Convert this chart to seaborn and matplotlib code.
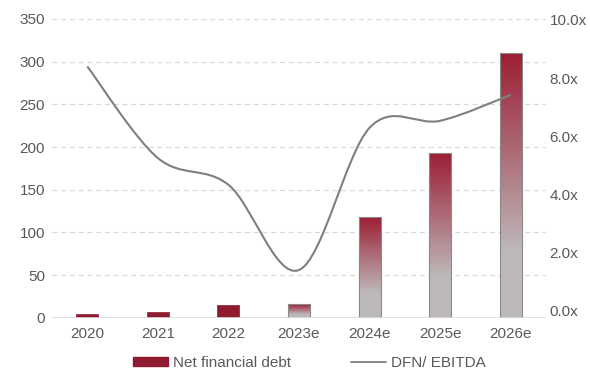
import numpy as np
import pandas as pd
import matplotlib
matplotlib.use("Agg")
import matplotlib.pyplot as plt
import seaborn as sns
from matplotlib.path import Path
from matplotlib.patches import PathPatch, Patch
from matplotlib.lines import Line2D
from matplotlib.colors import to_rgb
from matplotlib.ticker import FuncFormatter

years = ["2020", "2021", "2022", "2023e", "2024e", "2025e", "2026e"]
net_debt = [4, 7, 14.5, 16, 118, 193, 310]
dfn_ebitda = [8.4, 5.25, 4.33, 1.4, 6.29, 6.53, 7.42]
is_estimate = [False, False, False, True, True, True, True]
left_ticks = [0, 50, 100, 150, 200, 250, 300, 350]
right_ticks = [0, 2, 4, 6, 8, 10]

RED = "#8E1B30"
GRAD_TOP = "#9C1E34"
GRAD_BOTTOM = "#BDB9BA"
TXT = "#595959"
GRID = "#D9D9D9"
LINE = "#7F7F7F"
FS = 11

sns.set_theme(style="white")
plt.rcParams["font.family"] = ["Liberation Sans", "DejaVu Sans"]
plt.rcParams["font.size"] = FS

fig = plt.figure(figsize=(5.9, 3.8), dpi=100)
ax = fig.add_axes([52 / 590, (380 - 317.7) / 380, (546 - 52) / 590, (317.7 - 19) / 380])

df = pd.DataFrame({"year": years, "debt": net_debt})
sns.barplot(data=df, x="year", y="debt", color=RED, width=0.31, ax=ax,
            saturation=1, zorder=2)

# gradient for estimate bars
n = 256
frac = np.linspace(0, 1, n)  # 0 top -> 1 bottom
t = np.clip(frac / 0.75, 0, 1)[:, None]
c_top = np.array(to_rgb(GRAD_TOP))
c_bot = np.array(to_rgb(GRAD_BOTTOM))
grad = (1 - t) * c_top + t * c_bot
grad = grad[:, None, :]
for patch, est in zip(ax.patches, is_estimate):
    if est:
        x0 = patch.get_x()
        w = patch.get_width()
        h = patch.get_height()
        im = ax.imshow(grad, extent=(x0, x0 + w, 0, h), origin="upper",
                       aspect="auto", zorder=1.9, interpolation="bilinear")
        im.set_clip_path(patch)
        patch.set_facecolor("none")
        patch.set_edgecolor("#8C8888")
        patch.set_linewidth(0.8)
    else:
        patch.set_edgecolor(RED)
        patch.set_linewidth(0.5)

ax.set_xlim(-0.5, 6.5)
ax.set_ylim(0, 350)
ax.set_yticks(left_ticks)
ax.set_xlabel("")
ax.set_ylabel("")
for s in ax.spines.values():
    s.set_visible(False)
for yv in left_ticks[1:]:
    ax.axhline(yv, color=GRID, lw=0.9, ls=(0, (4, 3)), zorder=0)
ax.axhline(0, color=GRID, lw=1.2, zorder=3)
ax.tick_params(axis="y", length=0, pad=5, labelcolor=TXT, labelsize=FS)
ax.tick_params(axis="x", length=0, pad=7, labelcolor=TXT, labelsize=FS)
ax.grid(False)

ax2 = ax.twinx()
ax2.set_ylim(-0.24, 10.03)
ax2.set_yticks(right_ticks)
ax2.yaxis.set_major_formatter(FuncFormatter(lambda v, p: f"{v:.1f}x"))
ax2.tick_params(axis="y", length=0, pad=2.5, labelcolor=TXT, labelsize=FS)
for s in ax2.spines.values():
    s.set_visible(False)
ax2.grid(False)

# smoothed line (Catmull-Rom as cubic Bezier, through the data points)
xs = np.arange(len(dfn_ebitda), dtype=float)
ys = np.array(dfn_ebitda, dtype=float)
pts = np.column_stack([xs, ys])
verts = [pts[0]]
codes = [Path.MOVETO]
for i in range(len(pts) - 1):
    p_prev = pts[i - 1] if i > 0 else pts[i]
    p_next2 = pts[i + 2] if i + 2 < len(pts) else pts[i + 1]
    c1 = pts[i] + (pts[i + 1] - p_prev) / 6
    c2 = pts[i + 1] - (p_next2 - pts[i]) / 6
    verts += [c1, c2, pts[i + 1]]
    codes += [Path.CURVE4] * 3
ax2.add_patch(PathPatch(Path(verts, codes), fill=False, edgecolor=LINE,
                        lw=1.5, zorder=5, capstyle="butt"))

handles = [Patch(facecolor=RED, edgecolor=RED, label="Net financial debt"),
           Line2D([0], [0], color=LINE, lw=1.3, label="DFN/ EBITDA")]
leg = fig.legend(handles=handles, loc="lower center", bbox_to_anchor=(0.524, -0.01),
                 ncol=2, frameon=False, handlelength=2.3, handleheight=0.5,
                 handletextpad=0.35, columnspacing=3.9, fontsize=FS)
for txt in leg.get_texts():
    txt.set_color(TXT)

fig.savefig("out.png", dpi=100)
